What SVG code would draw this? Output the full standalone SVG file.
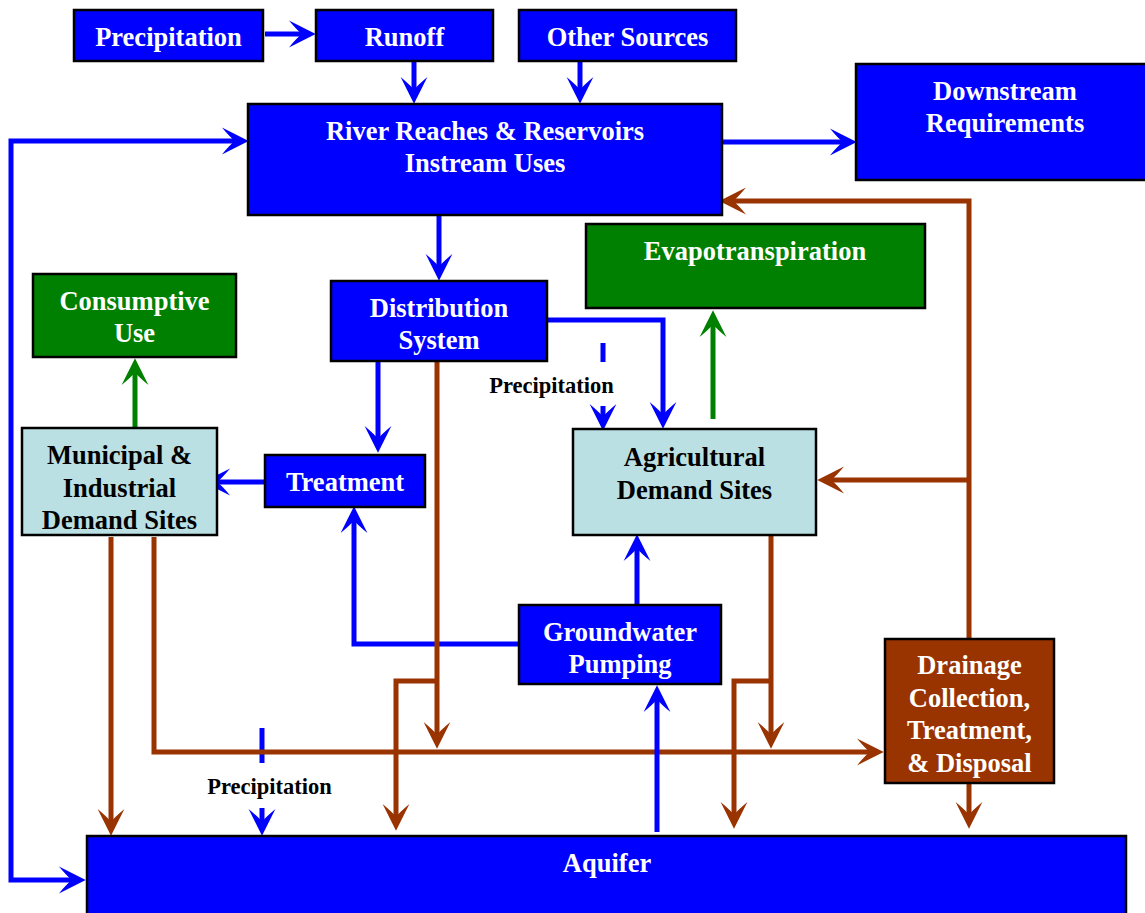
<svg xmlns="http://www.w3.org/2000/svg" width="1145" height="913" viewBox="0 0 1145 913">
<style>
.n{stroke:#000;stroke-width:2.5}
.b{fill:#0000FF}
.g{fill:#008000}
.l{fill:#BAE0E3}
.r{fill:#993300}
text{font-family:"Liberation Serif","Times New Roman",serif;font-weight:bold;font-size:26.5px;text-anchor:middle}
.w{fill:#fff}
.k{fill:#000}
.s{font-size:22.5px;fill:#000}
.cb{fill:none;stroke:#0000FF;stroke-width:5;marker-end:url(#mb)}
.cg{fill:none;stroke:#008000;stroke-width:5;marker-end:url(#mg)}
.cr{fill:none;stroke:#993300;stroke-width:5;marker-end:url(#mr)}
.dash{fill:none;stroke:#0000FF;stroke-width:5}
</style>
<defs>
<marker id="mb" markerUnits="userSpaceOnUse" markerWidth="30" markerHeight="30" viewBox="-16 -14 28 28" refX="0" refY="0" orient="auto-start-reverse"><path d="M10,0 L-15,-12.5 Q-7,-3 -3,0 Q-7,3 -15,12.5 Z" fill="#0000FF"/></marker>
<marker id="mg" markerUnits="userSpaceOnUse" markerWidth="30" markerHeight="30" viewBox="-16 -14 28 28" refX="0" refY="0" orient="auto"><path d="M10,0 L-15,-12.5 Q-7,-3 -3,0 Q-7,3 -15,12.5 Z" fill="#008000"/></marker>
<marker id="mr" markerUnits="userSpaceOnUse" markerWidth="30" markerHeight="30" viewBox="-16 -14 28 28" refX="0" refY="0" orient="auto"><path d="M10,0 L-15,-12.5 Q-7,-3 -3,0 Q-7,3 -15,12.5 Z" fill="#993300"/></marker>
</defs>
<rect width="1145" height="913" fill="#fff"/>

<g id="connectors">
<path class="cb" d="M265,34 H305"/>
<path class="cb" d="M414,62 V93"/>
<path class="cb" d="M580,62 V93"/>
<path class="cb" d="M722,142 H846"/>
<path class="cb" d="M238,141 H11 V880 H75" style="marker-start:url(#mb)"/>
<path class="cb" d="M439,216 V270"/>
<path class="cb" d="M547,320 H663 V418"/>
<path class="cb" d="M378,361 V442"/>
<path class="dash" d="M603,343 V362"/>
<path class="cb" d="M603,406 V420"/>
<path class="cb" d="M265,482 H214"/>
<path class="cb" d="M519,644 H354 V517"/>
<path class="cb" d="M637,604 V545"/>
<path class="dash" d="M262,728 V763"/>
<path class="cb" d="M262,808 V825"/>
<path class="cg" d="M135,428 V369"/>
<path class="cg" d="M713,419 V321"/>
<path class="cr" d="M969,639 V201 H730"/>
<path class="cr" d="M969,480 H828"/>
<path class="cr" d="M437,361 V738"/>
<path class="cr" d="M437,681 H396 V820"/>
<path class="cr" d="M771,536 V738"/>
<path class="cr" d="M771,681 H734 V818"/>
<path class="cr" d="M111,537 V825"/>
<path class="cr" d="M154,537 V752 H873"/>
<path class="cr" d="M969,784 V818"/>
<path class="cb" d="M657,832 V696"/>
</g>

<g id="precipitation"><rect class="n b" x="74" y="10" width="189" height="51"/><text class="w" x="168.5" y="46">Precipitation</text></g>
<g id="runoff"><rect class="n b" x="316" y="10" width="177" height="51"/><text class="w" x="404.5" y="46">Runoff</text></g>
<g id="other-sources"><rect class="n b" x="519" y="10" width="217" height="51"/><text class="w" x="627.5" y="46">Other Sources</text></g>
<g id="river"><rect class="n b" x="248" y="104" width="474" height="111"/><text class="w" x="485" y="140">River Reaches &amp; Reservoirs</text><text class="w" x="485" y="172">Instream Uses</text></g>
<g id="downstream"><rect class="n b" x="856" y="64" width="300" height="116"/><text class="w" x="1005" y="100">Downstream</text><text class="w" x="1005" y="132">Requirements</text></g>
<g id="evapotranspiration"><rect class="n g" x="586" y="224" width="339" height="84"/><text class="w" x="755" y="260">Evapotranspiration</text></g>
<g id="consumptive-use"><rect class="n g" x="33" y="274" width="203" height="83"/><text class="w" x="134.5" y="310">Consumptive</text><text class="w" x="134.5" y="342">Use</text></g>
<g id="distribution"><rect class="n b" x="331" y="281" width="216" height="80"/><text class="w" x="439" y="317">Distribution</text><text class="w" x="439" y="349">System</text></g>
<g id="municipal"><rect class="n l" x="22" y="428" width="195" height="107"/><text class="k" x="119.5" y="464">Municipal &amp;</text><text class="k" x="119.5" y="497">Industrial</text><text class="k" x="119.5" y="529">Demand Sites</text></g>
<g id="treatment"><rect class="n b" x="265" y="455" width="160" height="52"/><text class="w" x="345" y="491">Treatment</text></g>
<g id="agricultural"><rect class="n l" x="573" y="429" width="243" height="106"/><text class="k" x="694.5" y="466">Agricultural</text><text class="k" x="694.5" y="499">Demand Sites</text></g>
<g id="groundwater"><rect class="n b" x="519" y="605" width="202" height="79"/><text class="w" x="620" y="641">Groundwater</text><text class="w" x="620" y="673">Pumping</text></g>
<g id="drainage"><rect class="n r" x="885" y="639" width="169" height="144"/><text class="w" x="969.5" y="674">Drainage</text><text class="w" x="969.5" y="707">Collection,</text><text class="w" x="969.5" y="739">Treatment,</text><text class="w" x="969.5" y="772">&amp; Disposal</text></g>
<g id="aquifer"><rect class="n b" x="87" y="836" width="1039" height="90"/><text class="w" x="607" y="872">Aquifer</text></g>
<g id="labels"><text class="s" x="551.5" y="393">Precipitation</text><text class="s" x="269.5" y="794">Precipitation</text></g>
</svg>
